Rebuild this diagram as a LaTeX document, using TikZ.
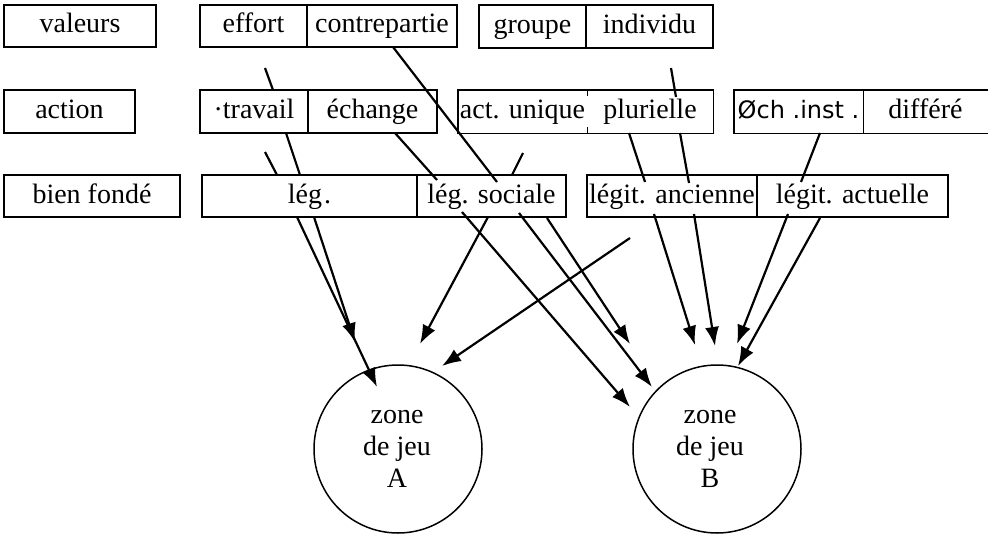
\documentclass[tikz,border=0pt]{standalone}
\usepackage{fontspec}
\setmainfont{Liberation Serif}
\newfontfamily\ochfont{DejaVu Sans}
\usetikzlibrary{arrows.meta}
\begin{document}
\begin{tikzpicture}[x=1pt,y=-1pt,
  txtfont/.style={font=\fontsize{28}{32}\selectfont},
  cellnd/.style={inner sep=0pt, text height=21pt, text depth=7pt, txtfont},
  cell/.style={cellnd, draw, line width=1.4pt},
  boxline/.style={line width=1.4pt},
  conn/.style={line width=2.2pt},
  arr/.style={conn, -{Latex[length=19pt,width=14pt]}},
  zone/.style={circle, draw, line width=1.5pt, minimum size=168pt, inner sep=0pt}]
\useasboundingbox (0,0) rectangle (993,535);

% row 1
\node[cell, minimum width=152pt, minimum height=42pt] (val) at (80,26) {valeurs};
\node[cell, minimum width=107pt, minimum height=42pt] (eff) at (253.5,26) {effort};
\node[cell, minimum width=150pt, minimum height=42pt] (con) at (382,26) {contrepartie};
\node[cell, minimum width=107pt, minimum height=43pt] (grp) at (532.5,26.5) {groupe};
\node[cell, minimum width=127pt, minimum height=43pt] (ind) at (649.5,26.5) {individu};

% row 2
\node[cell, minimum width=131pt, minimum height=43pt] (act) at (69.5,111.5) {action};
\node[cell, minimum width=108pt, minimum height=43pt] (trav) at (254,111.5) {·travail};
\node[cell, minimum width=129pt, minimum height=43pt] (ech) at (372.5,111.5) {échange};
\node[cellnd, minimum width=129pt, minimum height=43pt] (actu) at (522.5,111.5) {act. unique};
\node[cellnd, minimum width=126pt, minimum height=43pt] (plur) at (650,111.5) {plurielle};
\node[cellnd, minimum width=129pt, minimum height=43pt] (och) at (798.5,111.5) {\ochfont\fontsize{24}{26}\selectfont Øch .inst .};
\node[cellnd, minimum width=125pt, minimum height=43pt] (diff) at (925.5,111.5) {différé};
\draw[boxline] (actu.north west) rectangle (plur.south east);
\draw[boxline] (actu.north east) -- ++(0,6) (actu.south east) -- ++(0,-6);
\draw[boxline] (diff.north east) -- (och.north west) -- (och.south west) -- (diff.south east);
\draw[boxline] (och.north east) -- (och.south east);

% row 3
\node[cell, minimum width=176pt, minimum height=42pt] (bf) at (92,196) {bien fondé};
\node[cell, minimum width=215pt, minimum height=42pt] (leg) at (309.5,196) {lég\kern2pt.};
\node[cell, minimum width=149pt, minimum height=42pt] (legs) at (491.5,196) {lég. sociale};
\node[cell, minimum width=170pt, minimum height=42pt] (lega) at (672,196) {légit. ancienne};
\node[cell, minimum width=191pt, minimum height=42pt] (legc) at (852.5,196) {légit. actuelle};

% zones
\node[zone] (zA) at (398,449) {};
\node[zone] (zB) at (717,449) {};
\node[txtfont, align=center, inner sep=0pt] (zAt) at (397,449) {zone\\de jeu\\A};
\node[txtfont, align=center, inner sep=0pt] (zBt) at (710,449) {zone\\de jeu\\B};

% connector points
\coordinate (a1a) at (265,68);  \coordinate (a1b) at (273,90);
\coordinate (a1c) at (286,133); \coordinate (a1d) at (300,175);
\coordinate (a1e) at (314,217); \coordinate (a1t) at (355,342);
\coordinate (a2a) at (265,152); \coordinate (a2b) at (277,175);
\coordinate (a2c) at (297,217); \coordinate (a2t) at (377,387);
\coordinate (a3a) at (523,153); \coordinate (a3b) at (512,175);
\coordinate (a3c) at (488,217); \coordinate (a3t) at (420,344);
\coordinate (a4a) at (630,238); \coordinate (a4t) at (442,366);
\coordinate (b1a) at (393,47);  \coordinate (b1b) at (497,182);
\coordinate (b1c) at (519,213); \coordinate (b1t) at (652,387);
\coordinate (b2a) at (395,133); \coordinate (b2b) at (437,180);
\coordinate (b2c) at (462,212); \coordinate (b2t) at (630,407);
\coordinate (b3a) at (547,218); \coordinate (b3t) at (630,344);
\coordinate (b4a) at (671,68);  \coordinate (b4b) at (676,97);
\coordinate (b4c) at (680,133); \coordinate (b4d) at (689,183);
\coordinate (b4e) at (694,214); \coordinate (b4t) at (715,346);
\coordinate (b5a) at (629,133); \coordinate (b5b) at (645,182);
\coordinate (b5c) at (654,214); \coordinate (b5t) at (695,345);
\coordinate (b6a) at (820,133); \coordinate (b6b) at (801,182);
\coordinate (b6c) at (788,214); \coordinate (b6t) at (737,344);
\coordinate (b7a) at (820,218); \coordinate (b7t) at (738,366);

% connectors
\draw[conn] (a1a) -- (a1b);
\draw[conn] (a1c) -- (a1d);
\draw[arr] (a1e) -- (a1t);
\draw[conn] (a2a) -- (a2b);
\draw[arr] (a2c) -- (a2t);
\draw[conn] (a3a) -- (a3b);
\draw[arr] (a3c) -- (a3t);
\draw[arr] (a4a) -- (a4t);
\draw[conn] (b1a) -- (b1b);
\draw[arr] (b1c) -- (b1t);
\draw[conn] (b2a) -- (b2b);
\draw[arr] (b2c) -- (b2t);
\draw[arr] (b3a) -- (b3t);
\draw[conn] (b4a) -- (b4b);
\draw[conn] (b4c) -- (b4d);
\draw[arr] (b4e) -- (b4t);
\draw[conn] (b5a) -- (b5b);
\draw[arr] (b5c) -- (b5t);
\draw[conn] (b6a) -- (b6b);
\draw[arr] (b6c) -- (b6t);
\draw[arr] (b7a) -- (b7t);
\end{tikzpicture}
\end{document}
